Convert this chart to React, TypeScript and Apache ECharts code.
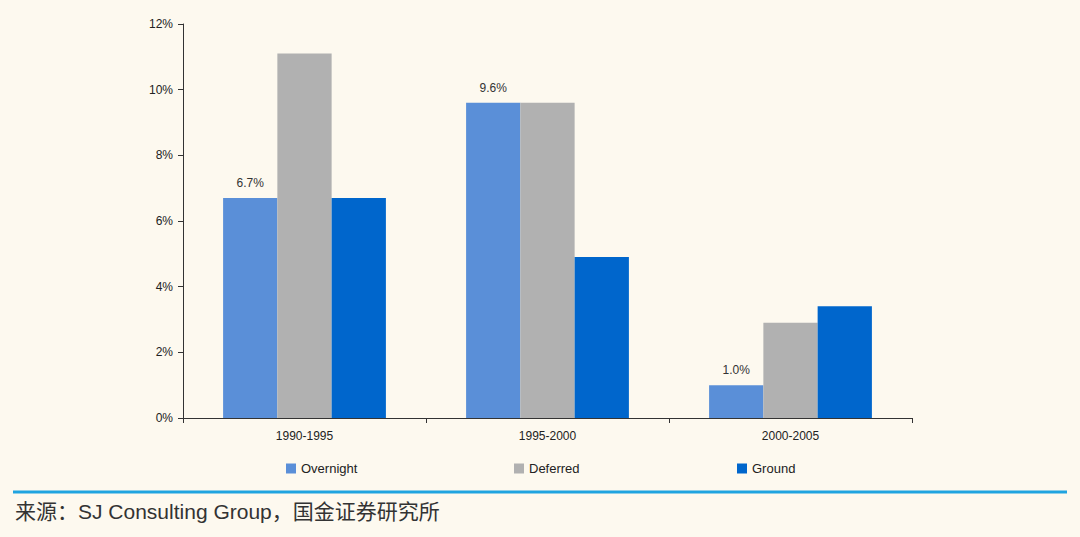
import React, { useEffect, useRef } from "react";
import * as echarts from "echarts";

const categories = ["1990-1995", "1995-2000", "2000-2005"];
const overnight = [6.7, 9.6, 1.0];
const deferred = [11.1, 9.6, 2.9];
const ground = [6.7, 4.9, 3.4];
const yTicks = { min: 0, max: 12, interval: 2 };
const sourceText = "来源：SJ Consulting Group，国金证券研究所";

export default function App() {
  const ref = useRef<HTMLDivElement>(null);
  useEffect(() => {
    const chart = echarts.init(ref.current!, null, { renderer: "svg" });
    const font = "Liberation Sans, Arial, sans-serif";
    const legendBase = {
      top: 457,
      itemWidth: 10,
      itemHeight: 10,
      icon: "rect",
      itemGap: 2,
      textStyle: { color: "#222", fontSize: 13, fontFamily: font },
    };
    chart.setOption({
      animation: false,
      backgroundColor: "#FDF9EF",
      grid: { left: 183, right: 168, top: 24, bottom: 119, containLabel: false },
      legend: [
        { ...legendBase, left: 281, data: ["Overnight"] },
        { ...legendBase, left: 509, data: ["Deferred"] },
        { ...legendBase, left: 732, data: ["Ground"] },
      ],
      xAxis: {
        type: "category",
        data: categories,
        axisLine: { lineStyle: { color: "#333", width: 1 } },
        axisTick: { show: true, length: 5, lineStyle: { color: "#333" } },
        axisLabel: { color: "#222", fontSize: 12, fontFamily: font, margin: 12 },
      },
      yAxis: {
        type: "value",
        min: yTicks.min,
        max: yTicks.max,
        interval: yTicks.interval,
        axisLine: { show: true, lineStyle: { color: "#333", width: 1 } },
        axisTick: { show: true, length: 5, lineStyle: { color: "#333" } },
        splitLine: { show: false },
        axisLabel: { color: "#222", fontSize: 12, fontFamily: font, formatter: "{value}%", margin: 10 },
      },
      series: [
        {
          name: "Overnight",
          type: "bar",
          data: overnight,
          barGap: "0%",
          barCategoryGap: "33%",
          itemStyle: { color: "#5A8FD8" },
          label: {
            show: true,
            position: "top",
            distance: 9,
            color: "#333",
            fontSize: 12,
            fontFamily: font,
            formatter: (p: any) => p.value.toFixed(1) + "%",
          },
        },
        { name: "Deferred", type: "bar", data: deferred, itemStyle: { color: "#B1B1B1" } },
        { name: "Ground", type: "bar", data: ground, itemStyle: { color: "#0066CC" } },
      ],
      graphic: [
        {
          type: "line",
          shape: { x1: 13, y1: 492, x2: 1067, y2: 492 },
          style: { stroke: "#20A4E0", lineWidth: 3 },
        },
        {
          type: "text",
          left: 15,
          top: 501,
          style: {
            text: sourceText,
            fill: "#333",
            fontSize: 21,
            fontFamily: "Liberation Sans, Noto Sans CJK SC, sans-serif",
          },
        },
      ],
    });
    return () => chart.dispose();
  }, []);
  return (
    <div
      ref={ref}
      style={{ position: "fixed", left: 0, top: 0, width: 1080, height: 537 }}
    />
  );
}
